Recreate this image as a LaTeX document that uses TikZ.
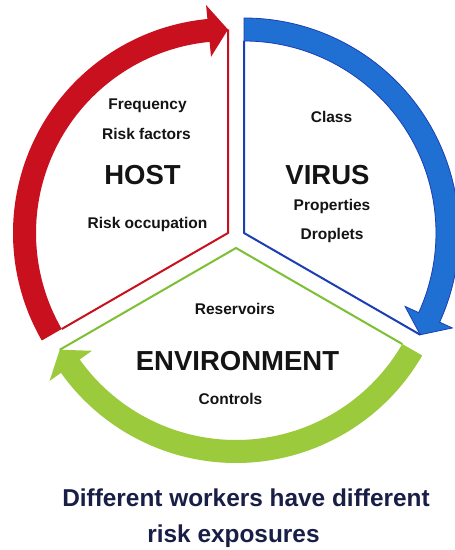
\documentclass[tikz,border=0pt]{standalone}
\usepackage{fontspec}
\setmainfont{Liberation Sans}
\definecolor{hostred}{RGB}{200,16,30}
\definecolor{virusblue}{RGB}{32,112,212}
\definecolor{virusedge}{RGB}{28,62,180}
\definecolor{envgreen}{RGB}{155,202,60}
\definecolor{envline}{RGB}{125,192,50}
\definecolor{navy}{RGB}{25,30,70}
\begin{document}
\begin{tikzpicture}[x=1pt,y=1pt,
  small/.style={font=\bfseries\fontsize{15.5}{18}\selectfont, anchor=base, text=black!92, inner sep=0pt},
  big/.style={font=\bfseries\fontsize{27.5}{30}\selectfont, anchor=base, text=black!92, inner sep=0pt},
  caption/.style={font=\bfseries\fontsize{24.4}{28}\selectfont, anchor=base, text=navy, inner sep=0pt},
  sectoredge/.style={line width=2pt, line join=miter}
]
\useasboundingbox (0,0) rectangle (455,550);
\fill[white] (0,0) rectangle (455,550);
\coordinate (hostc) at (228,317);
\coordinate (virusc) at (244,317);
\coordinate (envc) at (236,302);

% HOST (red)
\begin{scope}[shift={(hostc)}]
\fill[hostred] (210:215) arc[start angle=210, end angle=95.5, radius=215]
  -- (95.5:229) -- (90:203.5) -- (95.5:177) -- (95.5:192)
  arc[start angle=95.5, end angle=210, radius=192] -- cycle;
\draw[hostred, sectoredge] (210:192) -- (0,0) -- (90:203.5);
\end{scope}

% VIRUS (blue)
\begin{scope}[shift={(virusc)}]
\filldraw[fill=virusblue, draw=virusedge, line width=0.8pt] (90:215) arc[start angle=90, end angle=-24.5, radius=215]
  -- (-24.5:229) -- (-30:203.5) -- (-24.5:177) -- (-24.5:192)
  arc[start angle=-24.5, end angle=90, radius=192] -- cycle;
\draw[virusedge, sectoredge] (90:192) -- (0,0) -- (-30:203.5);
\end{scope}

% ENVIRONMENT (green)
\begin{scope}[shift={(envc)}]
\fill[envgreen] (-30:215) arc[start angle=-30, end angle=-144.5, radius=215]
  -- (-144.5:229) -- (-150:203.5) -- (-144.5:177) -- (-144.5:192)
  arc[start angle=-144.5, end angle=-30, radius=192] -- cycle;
\draw[envline, sectoredge] (-30:192) -- (0,0) -- (-150:203.5);
\end{scope}

% texts
\node[small] (freq) at (147.5,440.5) {Frequency};
\node[small] (riskf) at (146.5,410.5) {Risk factors};
\node[big] (host) at (142.5,365) {HOST};
\node[small] (occ) at (147.5,321) {Risk occupation};

\node[small] (class) at (331.5,427) {Class};
\node[big] (virus) at (327.5,365) {VIRUS};
\node[small] (prop) at (332,339) {Properties};
\node[small] (drop) at (332,310) {Droplets};

\node[small] (res) at (235,235) {Reservoirs};
\node[big] (env) at (237.5,179) {ENVIRONMENT};
\node[small] (ctrl) at (230.5,145) {Controls};

\node[caption] (cap1) at (246,44) {Different workers have different};
\node[caption] (cap2) at (233.5,7) {risk exposures};
\end{tikzpicture}
\end{document}
